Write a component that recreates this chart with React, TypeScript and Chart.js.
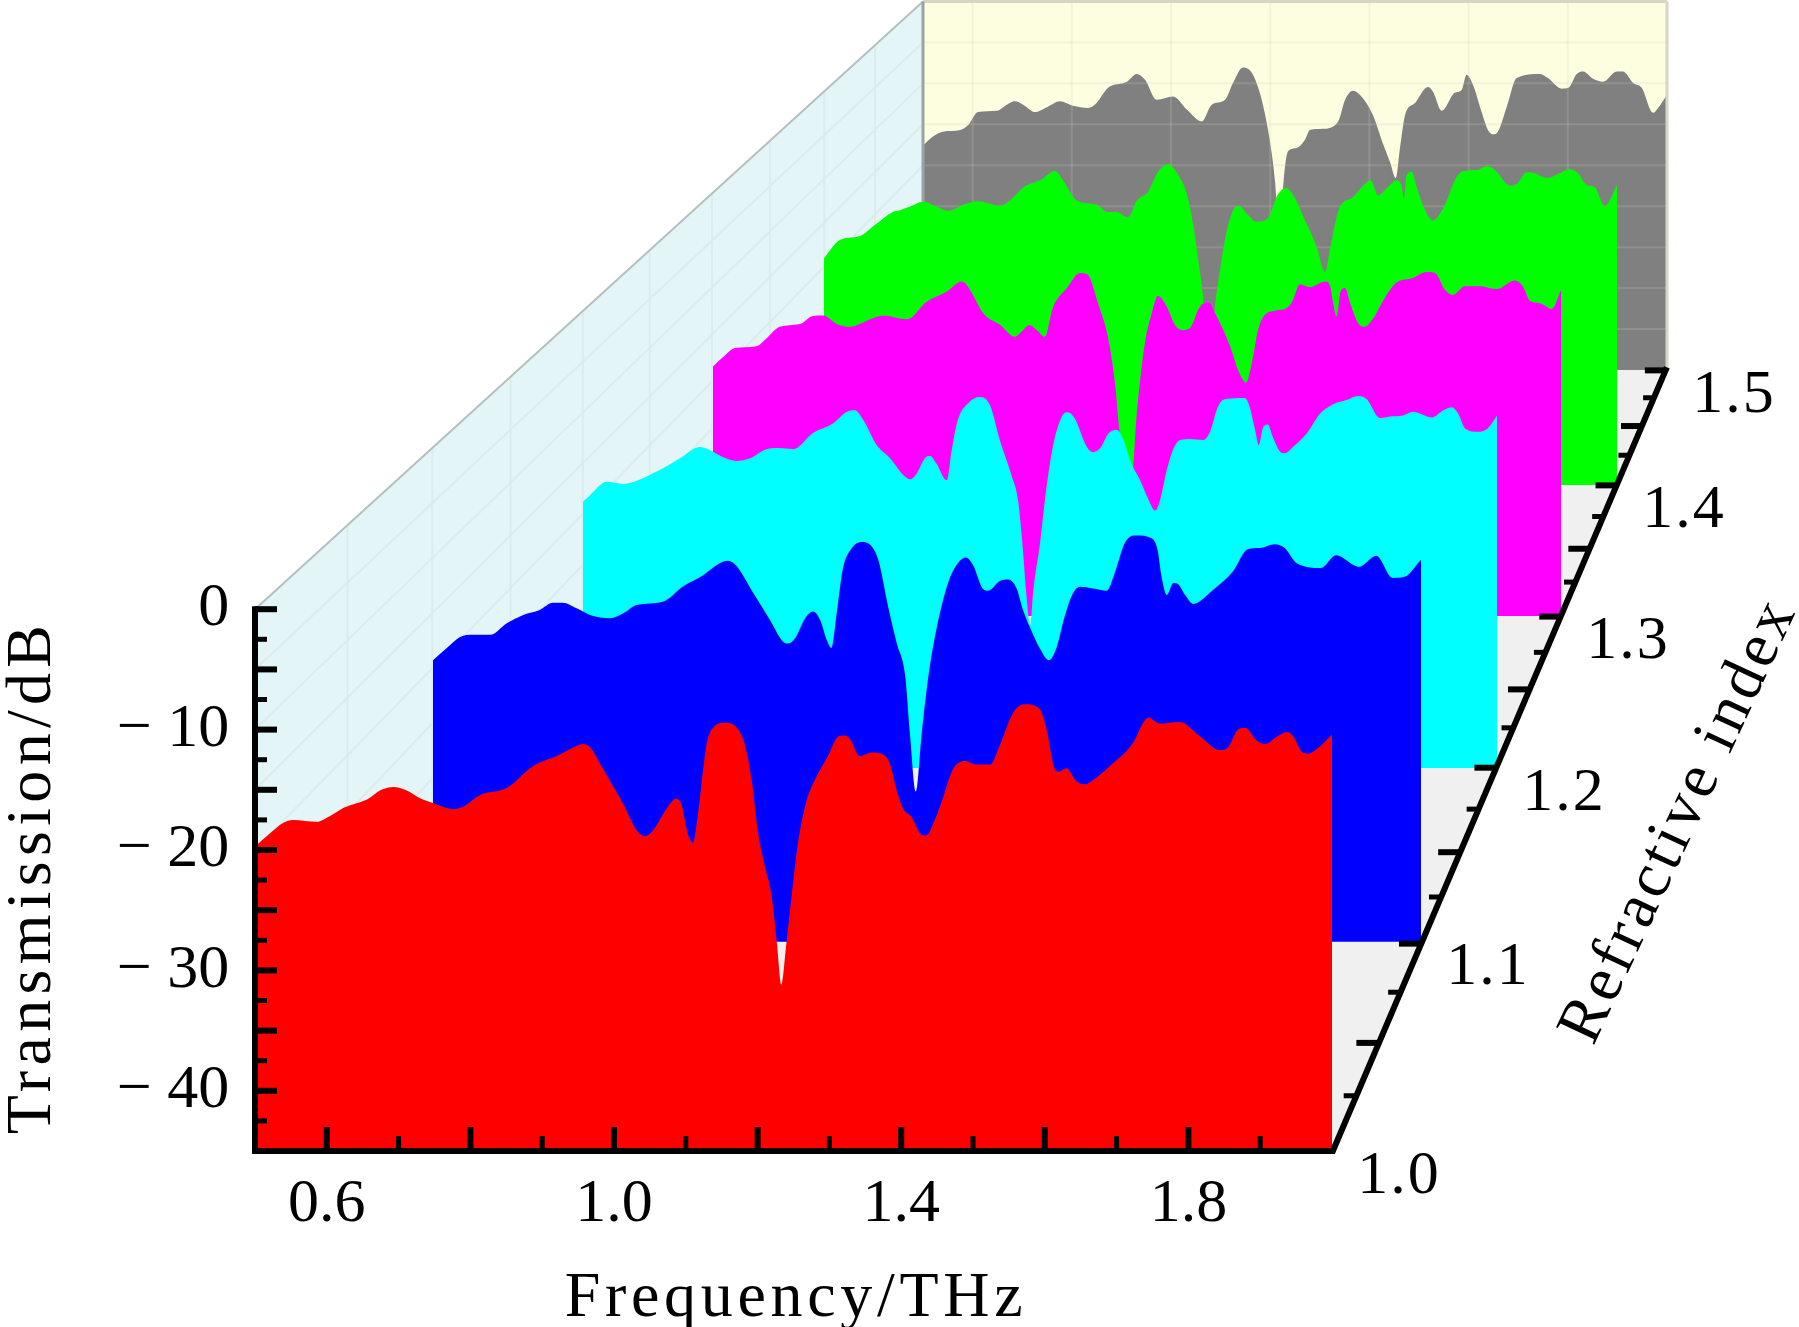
import { useEffect, useRef } from "react"
import { Chart, registerables } from "chart.js"

Chart.register(...registerables)

const W = 1799
const H = 1327
const FONT = '"Liberation Serif", serif'

const depthLabels = ["1.0", "1.1", "1.2", "1.3", "1.4", "1.5"]
const colors = ["#ff0000", "#0000ff", "#00ffff", "#ff00ff", "#00ff00", "#808080"]

// one x/y scale per depth slice, measured from the perspective of the box
const sliceLeft = [255, 433, 583, 713, 824, 923]
const sliceRight = [1332, 1421, 1497, 1561, 1617, 1667]
const sliceBase = [1151, 941.7, 768, 616, 485, 370]
const slicePxPerDb = [12.04, 11.04, 10.22, 9.45, 8.81, 8.19]

const freqTicks = [0.6, 1.0, 1.4, 1.8]
const freqMajor = [0.6, 0.8, 1.0, 1.2, 1.4, 1.6, 1.8]
const freqMinor = [0.7, 0.9, 1.1, 1.3, 1.5, 1.7, 1.9]
const dbTicks = [0, -10, -20, -30, -40]
const dbMajor = [0, -5, -10, -15, -20, -25, -30, -35, -40]
const dbMinor = [-2.5, -7.5, -12.5, -17.5, -22.5, -27.5, -32.5, -37.5, -42.5]
const depthMajor = [1.05, 1.1, 1.15, 1.2, 1.25, 1.3, 1.35, 1.4, 1.45, 1.5]
const depthMinor = [1.025, 1.075, 1.125, 1.175, 1.225, 1.275, 1.325, 1.375, 1.425, 1.475]
const wallFreq = [0.6, 0.8, 1.0, 1.2, 1.4, 1.6, 1.8]
const wallDb = [-5, -10, -15, -20, -25, -30, -35, -40]
const wallDepth = [1.05, 1.1, 1.15, 1.2, 1.25, 1.3, 1.35, 1.4, 1.45]

const freq10 = [0.5, 0.521, 0.539, 0.553, 0.586, 0.604, 0.625, 0.656, 0.676, 0.693, 0.709, 0.73, 0.748, 0.776, 0.79, 0.813, 0.851, 0.887, 0.92, 0.946, 0.957, 0.967, 0.985, 1.013, 1.032, 1.043, 1.054, 1.073, 1.086, 1.094, 1.103, 1.11, 1.117, 1.129, 1.138, 1.155, 1.171, 1.182, 1.192, 1.201, 1.21, 1.22, 1.227, 1.233, 1.24, 1.247, 1.256, 1.268, 1.28, 1.298, 1.312, 1.32, 1.329, 1.342, 1.359, 1.373, 1.384, 1.394, 1.403, 1.415, 1.426, 1.435, 1.444, 1.458, 1.472, 1.489, 1.505, 1.524, 1.538, 1.556, 1.572, 1.593, 1.602, 1.614, 1.619, 1.63, 1.644, 1.656, 1.667, 1.695, 1.723, 1.737, 1.744, 1.76, 1.788, 1.816, 1.844, 1.855, 1.869, 1.879, 1.895, 1.907, 1.923, 1.937, 1.946, 1.958, 1.966, 1.983, 2.0]
const db10 = [-19.7, -18.6, -17.75, -17.5, -17.66, -17.2, -16.45, -15.8, -15.0, -14.76, -15.0, -15.7, -16.1, -16.6, -16.4, -15.45, -14.84, -13.04, -12.2, -11.4, -11.2, -11.5, -13.3, -16.2, -18.4, -18.85, -18.4, -16.6, -15.75, -16.2, -18.7, -19.4, -17, -11.2, -9.85, -9.44, -9.85, -11.2, -14.3, -18.7, -21.3, -24, -27.8, -31.2, -27.8, -24, -19.5, -15.95, -14.15, -12.2, -10.6, -10.5, -10.8, -12.2, -11.9, -12, -12.8, -15.1, -16.6, -17.3, -18.6, -18.8, -17.9, -15.7, -13.3, -12.6, -12.9, -12.9, -11.2, -8.6, -7.9, -8.3, -9.85, -13.3, -13.5, -13.2, -14.3, -14.55, -14.2, -12.8, -11.1, -9.44, -9.0, -9.5, -9.36, -10.55, -11.7, -11.5, -10, -9.85, -10.9, -11.2, -10.6, -10.2, -10.55, -11.85, -12, -11.4, -10.4]

const freq11 = [0.5, 0.521, 0.541, 0.561, 0.587, 0.612, 0.637, 0.662, 0.682, 0.697, 0.718, 0.743, 0.769, 0.789, 0.809, 0.849, 0.88, 0.91, 0.936, 0.948, 0.961, 0.986, 1.012, 1.031, 1.039, 1.05, 1.065, 1.077, 1.088, 1.098, 1.105, 1.113, 1.122, 1.136, 1.151, 1.166, 1.176, 1.191, 1.204, 1.217, 1.224, 1.233, 1.242, 1.252, 1.265, 1.282, 1.297, 1.309, 1.32, 1.335, 1.343, 1.361, 1.373, 1.386, 1.396, 1.409, 1.421, 1.435, 1.447, 1.459, 1.472, 1.482, 1.502, 1.523, 1.535, 1.551, 1.568, 1.591, 1.6, 1.606, 1.614, 1.624, 1.631, 1.642, 1.654, 1.684, 1.714, 1.737, 1.755, 1.778, 1.793, 1.811, 1.848, 1.871, 1.906, 1.932, 1.957, 1.975, 2.0]
const db11 = [-19.5, -18.4, -17.4, -17.2, -17.2, -16.15, -15.4, -14.95, -14.3, -14.3, -14.8, -15.5, -15.7, -15.25, -14.5, -14.2, -12.8, -11.8, -10.7, -10.5, -11, -13.4, -15.9, -17.8, -18, -17.5, -15.7, -15.1, -15.9, -17.7, -18.4, -15.2, -11.3, -9.35, -8.8, -9.2, -10.4, -14.65, -17.95, -21, -26.1, -31.4, -26.1, -21, -16.5, -12.5, -10.7, -10.2, -10.9, -13.05, -13.2, -12.3, -12.2, -13, -15, -16.9, -18.4, -19.5, -18.3, -15.55, -13.4, -12.85, -13, -13.2, -11.6, -8.8, -8.2, -8.45, -9.5, -11.9, -13.6, -12.5, -12.6, -13.6, -14.4, -13.15, -11.5, -9.45, -9.35, -9, -9.35, -10.7, -11.15, -10, -11.05, -10.05, -12.05, -11.95, -10.4]

const freq12 = [0.5, 0.5115, 0.539, 0.566, 0.621, 0.659, 0.692, 0.713, 0.73, 0.752, 0.774, 0.801, 0.82, 0.845, 0.878, 0.91, 0.933, 0.946, 0.96, 0.982, 1.004, 1.026, 1.037, 1.048, 1.061, 1.069, 1.08, 1.097, 1.105, 1.115, 1.132, 1.151, 1.168, 1.184, 1.204, 1.214, 1.222, 1.227, 1.234, 1.239, 1.25, 1.258, 1.271, 1.286, 1.296, 1.307, 1.327, 1.337, 1.349, 1.362, 1.376, 1.387, 1.4, 1.414, 1.427, 1.439, 1.447, 1.458, 1.468, 1.48, 1.496, 1.518, 1.529, 1.542, 1.554, 1.586, 1.594, 1.603, 1.609, 1.616, 1.624, 1.632, 1.644, 1.652, 1.665, 1.688, 1.71, 1.731, 1.753, 1.772, 1.786, 1.808, 1.824, 1.846, 1.862, 1.893, 1.912, 1.926, 1.936, 1.948, 1.969, 1.985, 2.0]
const db12 = [-18.95, -18.3, -17.0, -17.2, -16, -14.7, -13.6, -14.05, -14.6, -14.95, -14.7, -13.8, -13.7, -13.8, -12.2, -11.3, -10.15, -10, -10.95, -13.4, -14.7, -16.35, -16.75, -16.15, -14.7, -14.45, -15.2, -16.85, -13.9, -10.95, -9.3, -8.7, -9.5, -12.9, -16.5, -18.8, -23.7, -27.6, -31, -27.6, -23, -18.8, -13.6, -10.6, -10.2, -10.8, -13.6, -14.1, -13.7, -12.3, -11.9, -12.9, -15.2, -16.8, -18.6, -19.8, -18.8, -15.85, -13.9, -12.9, -12.8, -12.9, -12.1, -9.65, -8.9, -8.8, -9.65, -11.9, -13.4, -11.7, -11.4, -12.6, -14.05, -14.2, -13.6, -12.25, -10.3, -9.4, -9, -8.6, -8.9, -10.75, -10.6, -10.5, -10.15, -10.7, -10, -9.7, -10.3, -11.8, -12.1, -11.75, -10.5]

const freq13 = [0.5, 0.518, 0.539, 0.577, 0.595, 0.618, 0.654, 0.677, 0.695, 0.719, 0.742, 0.778, 0.801, 0.843, 0.878, 0.913, 0.94, 0.951, 0.978, 1.008, 1.034, 1.046, 1.059, 1.073, 1.087, 1.101, 1.126, 1.149, 1.163, 1.181, 1.199, 1.211, 1.22, 1.2306, 1.239, 1.243, 1.248, 1.255, 1.264, 1.276, 1.287, 1.303, 1.317, 1.332, 1.344, 1.361, 1.376, 1.391, 1.415, 1.429, 1.443, 1.453, 1.464, 1.476, 1.494, 1.517, 1.526, 1.538, 1.556, 1.583, 1.591, 1.597, 1.603, 1.61, 1.618, 1.627, 1.641, 1.652, 1.668, 1.686, 1.709, 1.737, 1.762, 1.777, 1.795, 1.809, 1.83, 1.857, 1.886, 1.919, 1.933, 1.945, 1.963, 1.984, 2.0]
const db13 = [-18.6, -17.6, -16.65, -16.45, -15.6, -14.4, -14.1, -13.25, -13.2, -14.1, -14.4, -13.6, -13.2, -13.6, -11.75, -10.7, -9.6, -10.15, -12.95, -14.2, -15.45, -14.9, -14.2, -14.75, -15.45, -12.4, -10.3, -8.7, -8.9, -11.9, -15.6, -20.35, -26, -29.5, -31, -29.5, -24.8, -20.35, -16.1, -12.95, -11.15, -12.3, -14.2, -14.75, -14.5, -12.3, -11.8, -13.3, -16.5, -19, -20.3, -18.25, -14.75, -13.15, -12.7, -12.3, -11.55, -9.9, -10.2, -9.6, -10, -11.9, -13.3, -10.7, -10.3, -11.9, -14, -14.4, -13.5, -11.55, -9.7, -9.25, -8.6, -8.7, -10.5, -11, -10.1, -10.1, -10.4, -9.5, -10.15, -11.65, -11.9, -12.5, -10.5]

const freq14 = [0.5, 0.53, 0.568, 0.596, 0.63, 0.644, 0.663, 0.687, 0.713, 0.735, 0.763, 0.791, 0.833, 0.852, 0.88, 0.909, 0.937, 0.952, 0.978, 1.016, 1.035, 1.054, 1.075, 1.092, 1.113, 1.132, 1.151, 1.17, 1.186, 1.198, 1.207, 1.217, 1.228, 1.24, 1.249, 1.262, 1.274, 1.285, 1.299, 1.318, 1.34, 1.356, 1.374, 1.391, 1.41, 1.419, 1.432, 1.448, 1.457, 1.467, 1.476, 1.501, 1.52, 1.534, 1.548, 1.567, 1.583, 1.593, 1.597, 1.602, 1.612, 1.621, 1.637, 1.652, 1.671, 1.697, 1.709, 1.735, 1.756, 1.772, 1.797, 1.81, 1.829, 1.841, 1.869, 1.888, 1.911, 1.926, 1.943, 1.958, 1.977, 2.0]
const db14 = [-19.25, -17.2, -16.75, -15.5, -14, -13.8, -13.4, -12.85, -13.4, -13.9, -13.2, -12.8, -13.3, -12.7, -11.1, -10.4, -9.35, -10.4, -12.7, -13.2, -14, -14, -14.6, -12.7, -11.7, -9.45, -8.6, -9.8, -11.9, -15.3, -19.1, -23.6, -31, -24.4, -20.6, -16.1, -13.8, -13.3, -14.15, -15.1, -14.7, -12.3, -11.3, -12.45, -15, -16.1, -18, -20.8, -18.3, -15.3, -13.4, -12.3, -11, -10.4, -12.1, -11.15, -10.4, -11.15, -12.45, -9.8, -9.45, -11.15, -13.8, -14.95, -13.6, -10, -9.4, -9.25, -8.8, -9.45, -11, -10.85, -9.5, -9.55, -10.15, -9.7, -9.15, -9.6, -10.95, -11.2, -13.35, -10.95]

const freq15 = [0.5, 0.52, 0.54, 0.575, 0.591, 0.611, 0.649, 0.669, 0.685, 0.702, 0.726, 0.752, 0.776, 0.802, 0.833, 0.85, 0.873, 0.911, 0.931, 0.948, 0.971, 1.004, 1.032, 1.062, 1.082, 1.109, 1.125, 1.145, 1.163, 1.179, 1.193, 1.203, 1.21, 1.219, 1.226, 1.236, 1.253, 1.27, 1.28, 1.306, 1.337, 1.351, 1.367, 1.384, 1.407, 1.427, 1.442, 1.453, 1.462, 1.472, 1.492, 1.518, 1.528, 1.546, 1.572, 1.586, 1.596, 1.609, 1.626, 1.639, 1.649, 1.659, 1.677, 1.697, 1.744, 1.76, 1.788, 1.801, 1.818, 1.831, 1.851, 1.871, 1.899, 1.911, 1.932, 1.949, 1.972, 1.982, 2.0]
const db15 = [-17.6, -16.5, -15.9, -15.7, -15.1, -13.5, -13.35, -12.6, -12.2, -12.6, -13.5, -12.85, -12.2, -12.75, -13, -12.4, -10.55, -9.8, -8.85, -9.6, -12, -11.6, -13.2, -14.65, -12.6, -12, -9.95, -8.05, -8.7, -11.15, -14.8, -18.5, -22.15, -30, -22.65, -18.3, -17.9, -16.9, -15.7, -15.55, -14.65, -12, -10.9, -11.6, -13.85, -17.3, -19.7, -21.55, -17.7, -13.85, -12.4, -10.45, -11, -13.35, -11.15, -10.8, -8.95, -10.2, -13.45, -15.7, -16.2, -15.9, -12.85, -9.35, -8.85, -9.35, -10.65, -10.55, -8.85, -8.55, -9.45, -9.8, -8.55, -8.55, -9.95, -10.55, -13.6, -13, -11.4]

const freqs = [freq10, freq11, freq12, freq13, freq14, freq15]
const dbs = [db10, db11, db12, db13, db14, db15]

// perspective shrink of the floor with refractive index
const shrink = (n: number) => 1 / (1 + 0.894 * (n - 1))
const floorX = (n: number) => 2416 - 1084 * shrink(n)
const floorY = (n: number) => -1376 + 2527 * shrink(n)

function sliceScales() {
  const scales: any = {}
  sliceLeft.forEach((left, i) => {
    const pxPerThz = (sliceRight[i] - left) / 1.5
    const dbPx = slicePxPerDb[i]
    scales["x" + i] = {
      type: "linear",
      display: false,
      min: 0.5 - left / pxPerThz,
      max: 0.5 + (W - left) / pxPerThz,
    }
    scales["y" + i] = {
      type: "linear",
      display: false,
      min: -45 + (sliceBase[i] - H) / dbPx,
      max: -45 + sliceBase[i] / dbPx,
    }
  })
  return scales
}

function line(ctx: CanvasRenderingContext2D, x1: number, y1: number, x2: number, y2: number) {
  ctx.beginPath()
  ctx.moveTo(x1, y1)
  ctx.lineTo(x2, y2)
  ctx.stroke()
}

function label(ctx: CanvasRenderingContext2D, text: string, x: number, y: number, angle: number, size: number, spacing: number) {
  ctx.save()
  ctx.translate(x, y)
  ctx.rotate(angle)
  ;(ctx as any).letterSpacing = spacing + "px"
  ctx.font = `${size}px ${FONT}`
  ctx.fillStyle = "#000"
  ctx.textAlign = "center"
  ctx.textBaseline = "middle"
  ctx.fillText(text, 0, 0)
  ctx.restore()
}

const boxPlugin = {
  id: "box",
  beforeDatasetsDraw(chart: any) {
    const { ctx, scales } = chart
    const xf = scales.x0
    const yf = scales.y0
    const xb = scales.x5
    const yb = scales.y5
    const L0 = xf.getPixelForValue(0.5)
    const R0 = xf.getPixelForValue(2)
    const L5 = xb.getPixelForValue(0.5)
    const R5 = xb.getPixelForValue(2)
    const B0 = yf.getPixelForValue(-45)
    const B5 = yb.getPixelForValue(-45)
    const T0 = yf.getPixelForValue(0)
    const T5 = yb.getPixelForValue(0)
    ctx.save()

    // left wall
    ctx.fillStyle = "#e3f5f6"
    ctx.beginPath()
    ctx.moveTo(L0, T0)
    ctx.lineTo(L5, T5)
    ctx.lineTo(L5, B5)
    ctx.lineTo(L0, B0)
    ctx.closePath()
    ctx.fill()
    ctx.strokeStyle = "#dcecec"
    ctx.lineWidth = 2
    wallDb.forEach((d) => line(ctx, L0, yf.getPixelForValue(d), L5, yb.getPixelForValue(d)))
    wallDepth.forEach((n) => {
      const x = 2416 - (2416 - L0) * shrink(n)
      const t = (x - L0) / (L5 - L0)
      line(ctx, x, T0 + (T5 - T0) * t, x, B0 + (B5 - B0) * t)
    })
    ctx.strokeStyle = "#b4c0c0"
    line(ctx, L0, T0, L5, T5)

    // back wall
    ctx.fillStyle = "#fdfde0"
    ctx.fillRect(L5, T5, R5 - L5, B5 - T5)

    // floor
    ctx.fillStyle = "#f0f0f0"
    ctx.beginPath()
    ctx.moveTo(L0, B0)
    ctx.lineTo(R0, B0)
    ctx.lineTo(R5, B5)
    ctx.lineTo(L5, B5)
    ctx.closePath()
    ctx.fill()
    ctx.restore()
  },
  afterDatasetDraw(chart: any, args: any) {
    if (args.index !== 5) return
    const { ctx, scales } = chart
    const xb = scales.x5
    const yb = scales.y5
    const L5 = xb.getPixelForValue(0.5)
    const R5 = xb.getPixelForValue(2)
    const T5 = yb.getPixelForValue(0)
    const B5 = yb.getPixelForValue(-45)
    ctx.save()
    ctx.strokeStyle = "rgba(205,205,190,0.2)"
    ctx.lineWidth = 2
    wallFreq.forEach((f) => line(ctx, xb.getPixelForValue(f), T5, xb.getPixelForValue(f), B5))
    wallDb.forEach((d) => line(ctx, L5, yb.getPixelForValue(d), R5, yb.getPixelForValue(d)))
    ctx.strokeStyle = "#d6d6c4"
    ctx.lineWidth = 3
    line(ctx, L5, T5, R5, T5)
    line(ctx, R5, T5, R5, B5)
    ctx.strokeStyle = "#9aa4a4"
    line(ctx, L5, T5, L5, B5)
    ctx.restore()
  },
  afterDatasetsDraw(chart: any) {
    const { ctx, scales } = chart
    const xf = scales.x0
    const yf = scales.y0
    const L0 = xf.getPixelForValue(0.5)
    const R0 = xf.getPixelForValue(2)
    const B0 = yf.getPixelForValue(-45)
    const T0 = yf.getPixelForValue(0)
    ctx.save()
    ctx.strokeStyle = "#000"
    ctx.lineCap = "butt"

    // front frame and depth axis
    ctx.lineWidth = 6
    line(ctx, L0, T0 - 3, L0, B0 + 3)
    line(ctx, L0 - 3, B0, R0 + 2, B0)
    line(ctx, R0, B0 + 2, floorX(1.5), floorY(1.5) - 3)

    // inward ticks
    ctx.lineWidth = 6
    freqMajor.forEach((f) => line(ctx, xf.getPixelForValue(f), B0, xf.getPixelForValue(f), B0 - 24))
    dbMajor.forEach((d) => line(ctx, L0, yf.getPixelForValue(d), L0 + 22, yf.getPixelForValue(d)))
    depthMajor.forEach((n) => line(ctx, floorX(n), floorY(n), floorX(n) - 22, floorY(n)))
    ctx.lineWidth = 5
    freqMinor.forEach((f) => line(ctx, xf.getPixelForValue(f), B0, xf.getPixelForValue(f), B0 - 15))
    dbMinor.forEach((d) => line(ctx, L0, yf.getPixelForValue(d), L0 + 12, yf.getPixelForValue(d)))
    depthMinor.forEach((n) => line(ctx, floorX(n), floorY(n), floorX(n) - 12, floorY(n)))
    ctx.restore()

    depthLabels.forEach((text, i) => {
      const x = scales["x" + i].getPixelForValue(2) + 67
      const y = scales["y" + i].getPixelForValue(-45) + 26
      label(ctx, text, x, y, 0, 62, 2)
    })
    label(ctx, "Frequency/THz", 796, 1299, 0, 64, 4.7)
    label(ctx, "Transmission/dB", 33, 877, -Math.PI / 2, 64, 5.3)
    label(ctx, "Refractive index", 1680, 821, (-65 * Math.PI) / 180, 64, 3.6)
  },
}

export default function App() {
  const chartRef = useRef<HTMLCanvasElement | null>(null)

  useEffect(() => {
    if (!chartRef.current) return
    const scales = sliceScales()

    // the two visible axes only carry the tick labels, ticks are drawn by the plugin
    scales.x0 = {
      ...scales.x0,
      display: true,
      position: { y0: -45 },
      grid: { display: false },
      border: { display: false },
      afterBuildTicks: (axis: any) => {
        axis.ticks = freqTicks.map((value) => ({ value }))
      },
      afterFit: (axis: any) => {
        axis.paddingLeft = 0
        axis.paddingRight = 0
      },
      ticks: {
        autoSkip: false,
        maxRotation: 0,
        padding: 9,
        color: "#000",
        font: { family: FONT, size: 62 },
        callback: (v: any) => Number(v).toFixed(1),
      },
    }
    scales.y0 = {
      ...scales.y0,
      display: true,
      position: { x0: 0.464 },
      grid: { display: false },
      border: { display: false },
      afterBuildTicks: (axis: any) => {
        axis.ticks = dbTicks.map((value) => ({ value }))
      },
      afterFit: (axis: any) => {
        axis.paddingTop = 0
        axis.paddingBottom = 0
      },
      ticks: {
        autoSkip: false,
        color: "#000",
        font: { family: FONT, size: 62 },
        callback: (v: any) => (Number(v) === 0 ? "0" : `\u2212 ${-Number(v)}`),
      },
    }

    const chart = new Chart(chartRef.current, {
      type: "line",
      data: {
        datasets: depthLabels.map((n, i) => ({
          label: n,
          data: freqs[i].map((x, k) => ({ x, y: dbs[i][k] })),
          xAxisID: "x" + i,
          yAxisID: "y" + i,
          borderWidth: 0,
          pointRadius: 0,
          backgroundColor: colors[i],
          cubicInterpolationMode: "monotone" as const,
          fill: { value: -45 },
        })),
      },
      options: {
        animation: false,
        responsive: false,
        devicePixelRatio: 1,
        layout: { padding: 0 },
        scales,
        plugins: { legend: { display: false }, tooltip: { enabled: false } },
      },
      plugins: [boxPlugin as any],
    })

    return () => {
      chart.destroy()
    }
  }, [])

  return (
    <div style={{ position: "absolute", left: 0, top: 0, width: W, height: H, background: "#fff" }}>
      <canvas ref={chartRef} width={W} height={H} style={{ display: "block" }} />
    </div>
  )
}
